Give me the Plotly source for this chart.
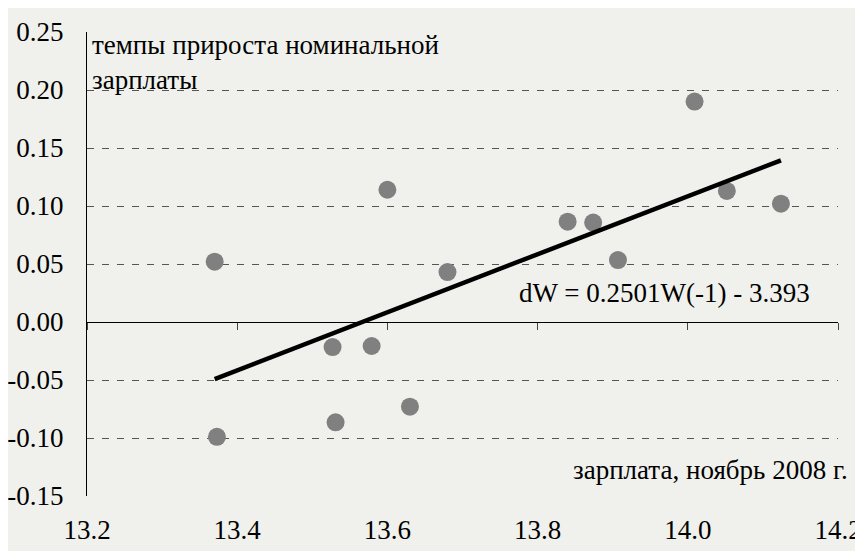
import plotly.graph_objects as go

# Data
wage_lag = [13.370, 13.373, 13.527, 13.531, 13.579, 13.600, 13.630, 13.680,
            13.840, 13.874, 13.907, 14.009, 14.052, 14.124]
wage_growth = [0.052, -0.099, -0.0216, -0.0865, -0.0207, 0.114, -0.073, 0.043,
               0.0865, 0.0857, 0.0534, 0.190, 0.113, 0.102]

slope = 0.2501
intercept = -3.393
fit_x = [min(wage_lag), max(wage_lag)]
fit_y = [slope * v + intercept for v in fit_x]

x_ticks = [13.2, 13.4, 13.6, 13.8, 14.0, 14.2]
x_ticktext = ["13.2", "13.4", "13.6", "13.8", "14.0", "14.2"]
y_ticks = [0.25, 0.20, 0.15, 0.10, 0.05, 0.00, -0.05, -0.10, -0.15]
y_ticktext = ["0.25", "0.20", "0.15", "0.10", "0.05", "0.00", "-0.05", "-0.10", "-0.15"]

y_title = "темпы прироста номинальной<br>зарплаты"
x_title = "зарплата, ноябрь 2008 г."
eq_text = "dW = 0.2501W(-1) - 3.393"

FONT = "Liberation Serif"
BG = "#F0F1EC"
FS = 27

fig = go.Figure()
fig.add_trace(go.Scatter(x=wage_lag, y=wage_growth, mode="markers",
                         marker=dict(size=18, color="#808080"),
                         hoverinfo="skip", showlegend=False))
fig.add_trace(go.Scatter(x=fit_x, y=fit_y, mode="lines",
                         line=dict(color="black", width=4.5),
                         hoverinfo="skip", showlegend=False))
# invisible trace to carry the axis drawn at y = 0
fig.add_trace(go.Scatter(x=fit_x, y=fit_y, xaxis="x2", mode="lines",
                         line=dict(color="rgba(0,0,0,0)", width=0),
                         hoverinfo="skip", showlegend=False))

xr = [13.2, 14.2]
yr = [-0.15, 0.25]

fig.update_layout(
    width=855, height=543,
    margin=dict(l=79, r=25, t=24, b=55, autoexpand=False),
    paper_bgcolor=BG, plot_bgcolor=BG,
    font=dict(family=FONT, size=FS, color="black"),
    xaxis=dict(range=xr, tickvals=x_ticks, ticktext=x_ticktext,
               showgrid=False, zeroline=False, showline=False, ticks="",
               automargin=False,
               ticklabelstandoff=15, tickfont=dict(size=FS)),
    xaxis2=dict(range=xr, overlaying="x", anchor="free",
                position=(0 - yr[0]) / (yr[1] - yr[0]),
                tickvals=x_ticks, showticklabels=False, automargin=False,
                showgrid=False, zeroline=False, showline=True,
                linecolor="black", linewidth=1,
                ticks="outside", ticklen=7, tickcolor="#444", tickwidth=1),
    yaxis=dict(range=yr, tickvals=y_ticks, ticktext=y_ticktext,
               showgrid=True, gridcolor="#555555", gridwidth=1, griddash="7px,8px",
               zeroline=False, showline=True, linecolor="black", linewidth=1,
               automargin=False,
               ticks="", ticklabelstandoff=17, tickfont=dict(size=FS)),
    annotations=[
        dict(text=y_title, xref="x", yref="paper", x=13.2, y=1.0,
             xanchor="left", yanchor="top", xshift=3, yshift=4, showarrow=False,
             align="left", font=dict(size=FS)),
        dict(text=eq_text, xref="paper", yref="y", x=1.0, y=0.0,
             xanchor="right", yanchor="middle", xshift=-26, yshift=29,
             showarrow=False, font=dict(size=FS)),
        dict(text=x_title, xref="paper", yref="y", x=1.0, y=-0.125,
             xanchor="right", yanchor="middle", xshift=12, yshift=-3,
             showarrow=False, font=dict(size=FS)),
    ],
)

fig.write_html("out.html")
